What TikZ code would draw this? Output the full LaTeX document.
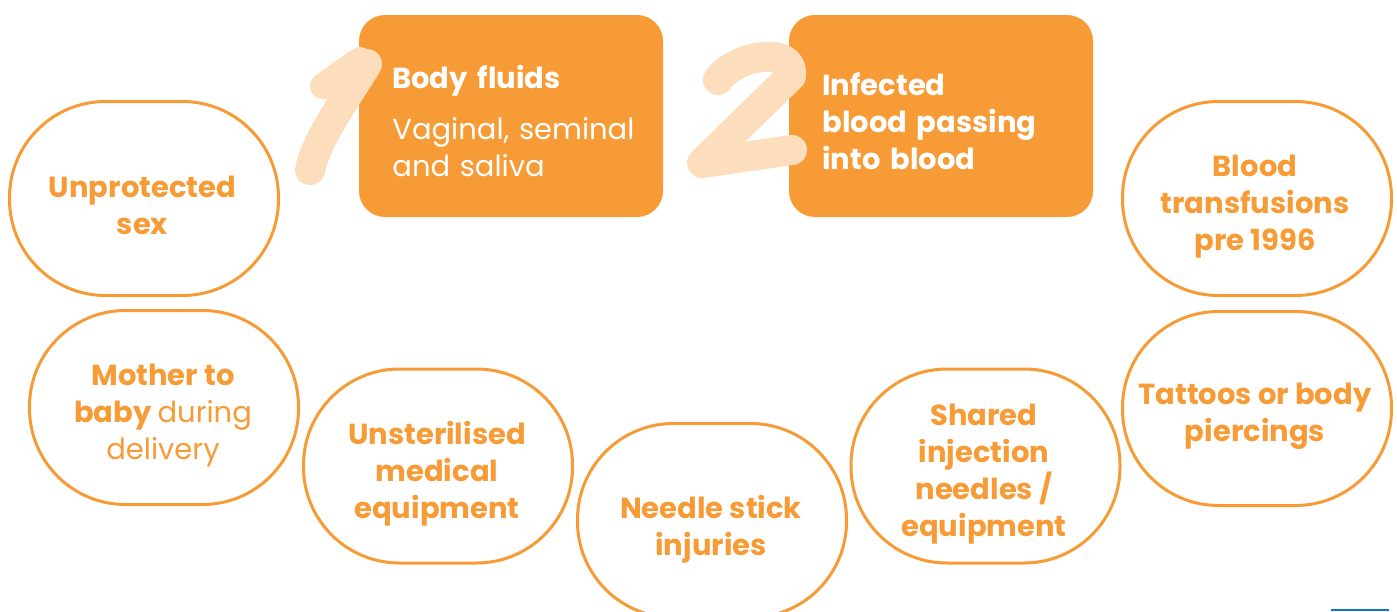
\documentclass[tikz,border=0pt]{standalone}
\usepackage{fontspec}
\setmainfont{Poppins}
\definecolor{orng}{RGB}{247,155,54}
\definecolor{peach}{RGB}{252,221,188}
\definecolor{lineblue}{RGB}{11,120,194}
\begin{document}
\begin{tikzpicture}[x=0.5pt,y=-0.5pt,
  bubble/.style={draw=orng, line width=1.5pt, fill=white, rounded corners=48pt,
    minimum width=134.5pt, minimum height=97pt, inner sep=0pt},
  btext/.style={align=center, text=orng, inner sep=0pt,
    font=\fontsize{14.5}{18.5}\selectfont\bfseries},
  card/.style={fill=orng, rounded corners=13pt, minimum height=101pt,
    minimum width=152pt, inner sep=0pt},
  ctext/.style={anchor=west, text width=125pt, inner sep=0pt, align=left, text=white,
    font=\fontsize{14.5}{18.5}\selectfont},
  numeral/.style={draw=peach, line width=15pt, line cap=round, line join=round}]
\useasboundingbox (0,0) rectangle (1397,611);
\clip (0,0) rectangle (1397,611);
% cards
\node[card] (fluids) at (511,116) {};
\node[card] (infected) at (941,116) {};
\node[ctext] (fluids-t) at (392,121.5) {{\bfseries Body fluids}\\[7pt]Vaginal, seminal\\and saliva};
\node[ctext] (infected-t) at (822,121) {{\bfseries Infected\\blood passing\\into blood}};
% numerals
\draw[numeral, line width=13pt] (323,86) -- (360,60);
\draw[numeral] (367,64) .. controls (345,100) and (316,140) .. (310,170);
\draw[numeral] (718,80) .. controls (735,55) and (795,45) .. (791,76) -- (702,163) -- (792,150);
% bubbles
\node[bubble] (sex) at (144,198.5) {};
\node[bubble] (mother) at (164,407.5) {};
\node[bubble] (unster) at (438,466) {};
\node[bubble] (needle) at (712,520.5) {};
\node[bubble] (shared) at (985.5,466) {};
\node[bubble] (tattoo) at (1257,408.5) {};
\node[bubble] (transf) at (1257,198.5) {};
\node[btext] (sex-t) at (142.5,205) {Unprotected\\sex};
\node[btext] (mother-t) at (163,416) {Mother to\\baby {\mdseries during}\\{\mdseries delivery}};
\node[btext] (unster-t) at (437,474) {Unsterilised\\medical\\equipment};
\node[btext] (needle-t) at (711,529.5) {Needle stick\\injuries};
\node[btext] (shared-t) at (984,474) {Shared\\injection\\needles /\\equipment};
\node[btext] (tattoo-t) at (1255,416.5) {Tattoos or body\\piercings};
\node[btext] (transf-t) at (1255,207) {Blood\\transfusions\\pre 1996};
% small blue mark
\fill[lineblue] (1331,609) rectangle (1389,611);
\end{tikzpicture}
\end{document}
